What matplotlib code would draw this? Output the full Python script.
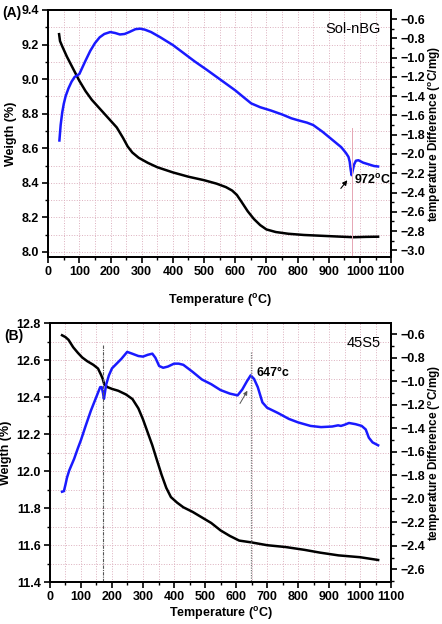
import numpy as np
import matplotlib.pyplot as plt
from matplotlib.ticker import MultipleLocator

plt.rcParams['font.family'] = ['Liberation Sans', 'DejaVu Sans']

# (A) Sol-nBG : weight (left axis) and DTA (right axis)
t_w_a = [35, 38, 45, 60, 80, 100, 120, 140, 160, 180, 200, 220, 240, 255, 270, 290, 320, 350,
         400, 450, 500, 540, 570, 590, 605, 620, 640, 660, 680, 700, 730, 770, 820, 880, 940,
         980, 1020, 1058]
w_a = [9.26, 9.22, 9.19, 9.13, 9.06, 8.99, 8.93, 8.88, 8.84, 8.80, 8.76, 8.72, 8.66, 8.61,
       8.575, 8.545, 8.515, 8.49, 8.46, 8.435, 8.415, 8.395, 8.375, 8.355, 8.33, 8.29, 8.235,
       8.19, 8.155, 8.13, 8.115, 8.105, 8.098, 8.093, 8.088, 8.085, 8.087, 8.088]
t_d_a = [36, 40, 45, 50, 56, 65, 75, 85, 93, 100, 110, 120, 135, 150, 165, 180, 199, 215, 230,
         245, 260, 280, 295, 310, 330, 360, 400, 433, 470, 510, 555, 600, 630, 651, 680, 715,
         750, 780, 801, 830, 850, 880, 910, 940, 955, 963, 967, 970, 973, 976, 981, 987, 995,
         1010, 1030, 1045, 1058]
d_a = [-1.86, -1.70, -1.57, -1.48, -1.40, -1.32, -1.25, -1.20, -1.185, -1.17, -1.10, -1.03,
       -0.93, -0.85, -0.79, -0.755, -0.735, -0.745, -0.76, -0.755, -0.735, -0.705, -0.70,
       -0.71, -0.735, -0.79, -0.87, -0.95, -1.04, -1.13, -1.235, -1.34, -1.42, -1.475, -1.515,
       -1.55, -1.59, -1.63, -1.65, -1.675, -1.70, -1.77, -1.85, -1.93, -1.99, -2.03, -2.08,
       -2.16, -2.22, -2.18, -2.11, -2.07, -2.065, -2.09, -2.11, -2.125, -2.13]

# (B) 45S5
t_w_b = [39, 50, 60, 75, 90, 104, 120, 140, 155, 165, 170, 175, 185, 200, 220, 245, 266, 285,
         300, 315, 330, 343, 360, 375, 390, 410, 430, 460, 490, 520, 550, 580, 610, 650, 700,
         760, 820, 870, 930, 1000, 1058]
w_b = [12.735, 12.725, 12.71, 12.67, 12.64, 12.615, 12.595, 12.575, 12.555, 12.52, 12.50,
       12.47, 12.455, 12.445, 12.435, 12.415, 12.39, 12.34, 12.28, 12.21, 12.14, 12.07, 11.98,
       11.91, 11.86, 11.83, 11.805, 11.78, 11.75, 11.72, 11.68, 11.65, 11.625, 11.615, 11.60,
       11.59, 11.575, 11.56, 11.545, 11.535, 11.52]
t_d_b = [39, 45, 50, 55, 62, 70, 78, 90, 100, 115, 132, 150, 162, 167, 171, 174, 177, 181,
         190, 200, 215, 230, 249, 265, 285, 300, 315, 330, 340, 352, 365, 380, 400, 415, 430,
         460, 490, 520, 550, 580, 605, 620, 635, 647, 658, 670, 685, 700, 735, 770, 800, 840,
         874, 910, 929, 938, 950, 964, 985, 1005, 1018, 1028, 1040, 1058]
d_b = [-1.94, -1.935, -1.88, -1.82, -1.76, -1.71, -1.66, -1.57, -1.50, -1.38, -1.25, -1.13,
       -1.05, -1.05, -1.10, -1.15, -1.10, -1.03, -0.95, -0.89, -0.85, -0.81, -0.75, -0.765,
       -0.785, -0.79, -0.775, -0.765, -0.80, -0.87, -0.885, -0.875, -0.85, -0.85, -0.86,
       -0.92, -0.985, -1.025, -1.075, -1.105, -1.12, -1.07, -1.00, -0.95, -0.98, -1.05, -1.18,
       -1.225, -1.27, -1.32, -1.35, -1.38, -1.39, -1.385, -1.375, -1.38, -1.37, -1.355,
       -1.365, -1.38, -1.41, -1.48, -1.52, -1.545]

blue = '#1a1aff'
grid_col = '#dcb0be'
deg = r'($^{\mathregular{o}}$C)'


def setup(ax, ax2, ylim, y2lim, xpad):
    ax.set_xlim(0, 1100)
    ax.set_ylim(*ylim)
    ax2.set_ylim(*y2lim)
    ax.xaxis.set_major_locator(MultipleLocator(100))
    ax.xaxis.set_minor_locator(MultipleLocator(50))
    ax.yaxis.set_major_locator(MultipleLocator(0.2))
    ax.yaxis.set_minor_locator(MultipleLocator(0.1))
    ax2.yaxis.set_major_locator(MultipleLocator(0.2))
    ax2.yaxis.set_minor_locator(MultipleLocator(0.1))
    ax.grid(which='both', color=grid_col, ls=':', lw=0.7)
    ax.set_axisbelow(True)
    for a in (ax, ax2):
        a.tick_params(which='major', direction='out', length=4, width=1.2, labelsize=9, pad=2.5)
        a.tick_params(which='minor', direction='out', length=2.5, width=1)
        for lab in a.get_xticklabels() + a.get_yticklabels():
            lab.set_fontweight('bold')
        for s in a.spines.values():
            s.set_linewidth(1.3)
    ax.set_xlabel('Temperature ' + deg, fontsize=9, fontweight='bold', labelpad=xpad)
    ax.set_ylabel('Weigth (%)', fontsize=9, fontweight='bold', labelpad=3)
    ax2.set_ylabel('temperature Difference ' + r'($^{\mathregular{o}}$C/mg)', fontsize=8.5,
                   fontweight='bold', labelpad=1)


fig = plt.figure(figsize=(4.42, 6.24), dpi=100)

# panel A
ax = fig.add_axes([0.109, 0.588, 0.776, 0.396])
ax2 = ax.twinx()
ax.plot(t_w_a, w_a, color='black', lw=1.8)
ax2.plot(t_d_a, d_a, color=blue, lw=1.8)
setup(ax, ax2, (7.97, 9.4), (-3.07, -0.506), 10)
ax2.plot([974, 974], [-1.73, -3.07], color='#e6a6b4', lw=0.7)
ax2.annotate('', xy=(965, -2.25), xytext=(933, -2.38),
             arrowprops=dict(arrowstyle='-|>', color='black', lw=0.8, mutation_scale=7))
ax2.text(982, -2.27, '972' + r'$^{\mathregular{o}}$C', fontsize=9, fontweight='bold', va='center')
ax.text(0.97, 0.95, 'Sol-nBG', transform=ax.transAxes, ha='right', va='top', fontsize=10.5)
fig.text(0.005, 0.979, '(A)', fontsize=10, fontweight='bold', va='center')

# panel B
bx = fig.add_axes([0.113, 0.067, 0.772, 0.415])
bx2 = bx.twinx()
bx.plot(t_w_b, w_b, color='black', lw=1.8)
bx2.plot(t_d_b, d_b, color=blue, lw=1.8)
setup(bx, bx2, (11.4, 12.8), (-2.71, -0.506), 1)
bx2.plot([172, 172], [-0.69, -2.71], color='#555555', lw=0.8, ls=(0, (3, 1, 1, 1)))
bx2.plot([647, 647], [-0.75, -2.71], color='#777777', lw=0.9, ls=(0, (1, 1)))
bx2.annotate('', xy=(641, -1.06), xytext=(608, -1.21),
             arrowprops=dict(arrowstyle='-|>', color='#555555', lw=0.7, mutation_scale=6))
bx2.text(667, -0.93, '647°c', fontsize=9, fontweight='bold', va='center')
bx.text(0.97, 0.95, '45S5', transform=bx.transAxes, ha='right', va='top', fontsize=10.5)
fig.text(0.01, 0.462, '(B)', fontsize=10, fontweight='bold', va='center')

fig.savefig('out.png', dpi=100)
